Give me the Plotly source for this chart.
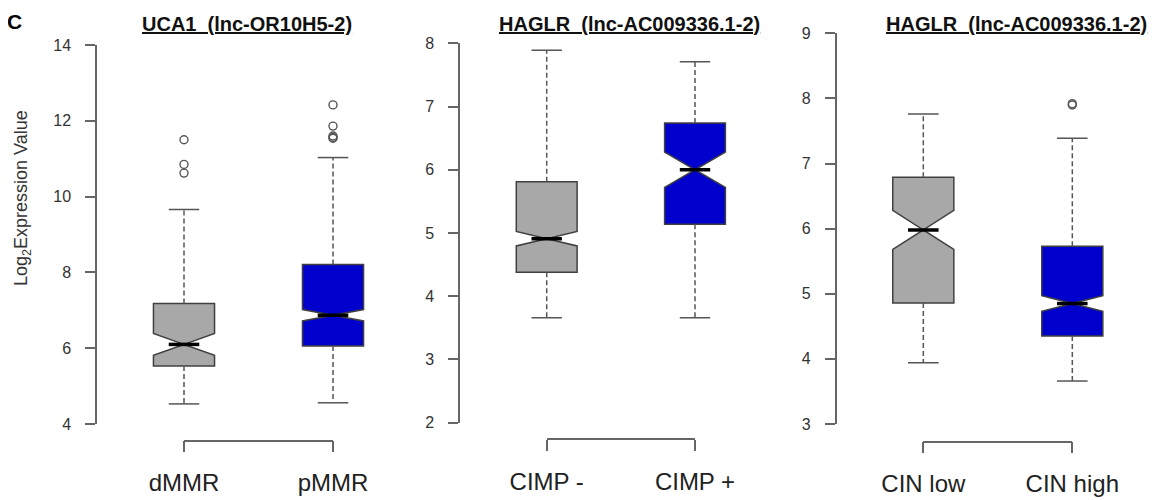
import plotly.graph_objects as go

# ---------------- data ----------------
titles = ["UCA1 &nbsp;(lnc-OR10H5-2)", "HAGLR &nbsp;(lnc-AC009336.1-2)", "HAGLR &nbsp;(lnc-AC009336.1-2)"]
categories = [["dMMR", "pMMR"], ["CIMP -", "CIMP +"], ["CIN low", "CIN high"]]

q1_vals = [[5.53, 6.06], [4.38, 5.14], [4.86, 4.35]]
median_vals = [[6.10, 6.87], [4.91, 6.00], [5.98, 4.85]]
q3_vals = [[7.18, 8.21], [5.81, 6.74], [6.79, 5.73]]
lower_whisker = [[4.53, 4.56], [3.66, 3.66], [3.94, 3.66]]
upper_whisker = [[9.66, 11.03], [7.89, 7.71], [7.76, 7.39]]
notch_half = [[0.29, 0.15], [0.115, 0.28], [0.30, 0.12]]

outliers = [
    [[11.50, 10.85, 10.62], [12.42, 11.86, 11.60, 11.56, 11.54]],
    [[], []],
    [[], [7.90, 7.92]],
]

y_ticks = [[4, 6, 8, 10, 12, 14], [2, 3, 4, 5, 6, 7, 8], [3, 4, 5, 6, 7, 8, 9]]

# ---------------- styling / layout geometry ----------------
OFF = 8                      # page body margin of the browser
W, H = 1161 - OFF, 500 - OFF
FONT = "Liberation Sans, Arial, sans-serif"
fills = ["#a8a8a8", "#0000cc"]
edge = "#404040"
wcol = "#555555"
axcol = "#666666"
box_w = 0.41
notch_frac = 0.5


def px_x(p):
    return (p - OFF) / W


def px_y(p):
    return 1 - (p - OFF) / H


# pixel geometry of each panel (reference pixels): (axis x, x of first box, px per unit, right,
#                                y-range, y px of range bottom, y px of range top, bracket y)
geo = [
    (97, 184.0, 149.0, 397, (4, 14), 424.0, 45.0, 440.7),
    (460, 546.7, 148.3, 798, (2, 8), 422.7, 43.3, 439.3),
    (836.7, 923.3, 149.0, 1161, (3, 9), 424.0, 33.3, 441.7),
]

fig = go.Figure()
layout = dict(
    width=W, height=H, margin=dict(l=0, r=0, t=0, b=0, autoexpand=False),
    plot_bgcolor="rgba(0,0,0,0)", paper_bgcolor="white", showlegend=False,
    font=dict(family=FONT, color="#333333"),
)

annotations = []
for p in range(3):
    ax_px, x0_px, unit, right_px, yr, ybot_px, ytop_px, br_px = geo[p]
    xa = "x" if p == 0 else f"x{p+1}"
    ya = "y" if p == 0 else f"y{p+1}"
    xb = f"x{p+4}"
    k = "" if p == 0 else str(p + 1)

    layout[f"xaxis{k}"] = dict(
        domain=[px_x(ax_px), min(1.0, px_x(right_px))],
        range=[(ax_px - x0_px) / unit, (min(right_px, 1161 - 0.01) - x0_px) / unit],
        visible=False, anchor=ya, automargin=False,
    )
    layout[f"yaxis{k}"] = dict(
        domain=[px_y(ybot_px), px_y(ytop_px)],
        range=list(yr), anchor=xa, automargin=False,
        tickvals=y_ticks[p], ticks="outside", ticklen=10, tickwidth=1.5,
        tickcolor=axcol, showline=True, linecolor=axcol, linewidth=1.5,
        showgrid=False, zeroline=False, ticklabelstandoff=11,
        tickfont=dict(family=FONT, size=16, color="#333333"),
    )
    # bracket axis (R-style x axis drawn from first to last category)
    layout[f"xaxis{p+4}"] = dict(
        domain=[px_x(x0_px), px_x(x0_px + unit)], range=[0, 1],
        anchor="free", position=px_y(br_px), side="bottom", automargin=False,
        tickvals=[0, 1], ticktext=categories[p], ticks="outside", ticklen=11,
        tickwidth=1.5, tickcolor=axcol, showline=True, linecolor=axcol, linewidth=1.5,
        showgrid=False, zeroline=False, ticklabelstandoff=10,
        tickfont=dict(family=FONT, size=24, color="#222222"),
    )
    fig.add_trace(go.Scatter(x=[0, 1], y=[None, None], xaxis=xb, yaxis=ya,
                             mode="lines", hoverinfo="skip", showlegend=False))

    for i in range(2):
        pos = i
        fig.add_trace(go.Box(
            x=[pos], q1=[q1_vals[p][i]], median=[median_vals[p][i]], q3=[q3_vals[p][i]],
            lowerfence=[q1_vals[p][i]], upperfence=[q3_vals[p][i]],
            notched=True, notchspan=[notch_half[p][i]], notchwidth=notch_frac,
            width=box_w, whiskerwidth=0, fillcolor=fills[i],
            line=dict(color=edge, width=1.5), boxpoints=False,
            xaxis=xa, yaxis=ya, hoverinfo="skip", showlegend=False,
        ))
        # dashed whiskers
        fig.add_trace(go.Scatter(
            x=[pos, pos, None, pos, pos],
            y=[q3_vals[p][i], upper_whisker[p][i], None, q1_vals[p][i], lower_whisker[p][i]],
            mode="lines", line=dict(color=wcol, width=1.5, dash="5px,3px"),
            xaxis=xa, yaxis=ya, hoverinfo="skip", showlegend=False,
        ))
        # whisker caps
        cw = box_w / 4
        fig.add_trace(go.Scatter(
            x=[pos - cw, pos + cw, None, pos - cw, pos + cw],
            y=[upper_whisker[p][i]] * 2 + [None] + [lower_whisker[p][i]] * 2,
            mode="lines", line=dict(color=wcol, width=1.5),
            xaxis=xa, yaxis=ya, hoverinfo="skip", showlegend=False,
        ))
        # thick median across the notch
        mw = box_w / 2 * (1 - notch_frac)
        fig.add_trace(go.Scatter(
            x=[pos - mw, pos + mw], y=[median_vals[p][i]] * 2,
            mode="lines", line=dict(color="#000000", width=3.5),
            xaxis=xa, yaxis=ya, hoverinfo="skip", showlegend=False,
        ))
        if outliers[p][i]:
            fig.add_trace(go.Scatter(
                x=[pos] * len(outliers[p][i]), y=outliers[p][i], mode="markers",
                marker=dict(symbol="circle-open", size=8, color=wcol, line=dict(width=1.4)),
                xaxis=xa, yaxis=ya, hoverinfo="skip", showlegend=False, cliponaxis=False,
            ))

title_x = [247, 629, 1016]
for p in range(3):
    annotations.append(dict(
        text=f"<b><u>{titles[p]}</u></b>", xref="paper", yref="paper",
        x=px_x(title_x[p]), y=px_y(24), xanchor="center", yanchor="middle",
        showarrow=False, font=dict(family=FONT, size=20, color="#111111"),
    ))
annotations.append(dict(
    text="<b>C</b>", xref="paper", yref="paper", x=px_x(14), y=px_y(8),
    xanchor="center", yanchor="top", showarrow=False,
    font=dict(family=FONT, size=21, color="#000000"),
))
annotations.append(dict(
    text="Log<sub>2</sub>Expression Value", xref="paper", yref="paper",
    x=px_x(22), y=px_y(198), xanchor="center", yanchor="middle", textangle=-90,
    showarrow=False, font=dict(family=FONT, size=18, color="#333333"),
))
layout["annotations"] = annotations
fig.update_layout(**layout)
fig.write_html("out.html")
